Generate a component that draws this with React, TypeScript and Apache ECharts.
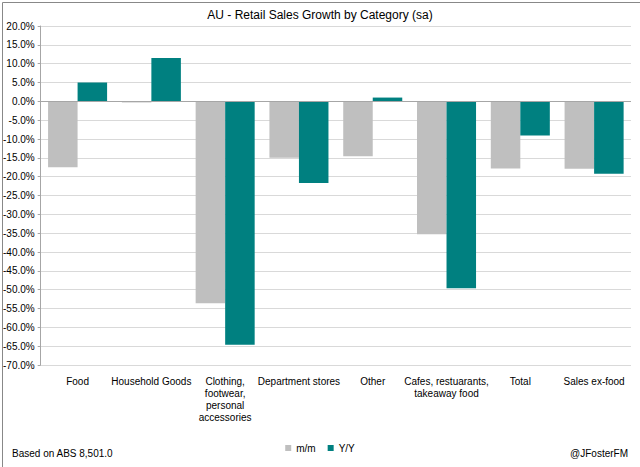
import React, { useEffect, useRef } from "react";
import * as echarts from "echarts";

const categories = [
  "Food",
  "Household Goods",
  "Clothing,\nfootwear,\npersonal\naccessories",
  "Department stores",
  "Other",
  "Cafes, restuarants,\ntakeaway food",
  "Total",
  "Sales ex-food",
];
const mom = [-17.5, -0.3, -53.6, -15.0, -14.6, -35.3, -17.8, -17.9];
const yoy = [5.0, 11.5, -64.6, -21.7, 1.0, -49.6, -9.1, -19.2];

const FONT = "'Liberation Sans', 'Open Sans', sans-serif";

export default function App() {
  const ref = useRef<HTMLDivElement>(null);
  useEffect(() => {
    document.body.style.margin = "0";
    const chart = echarts.init(ref.current!, null, { renderer: "svg" });
    chart.setOption({
      animation: false,
      backgroundColor: "#fff",
      textStyle: { fontFamily: FONT },
      title: {
        text: "AU - Retail Sales Growth by Category (sa)",
        left: "center",
        top: 4,
        textStyle: { fontSize: 12, fontWeight: "normal", color: "#000", fontFamily: FONT },
      },
      legend: {
        bottom: 9,
        left: "center",
        itemWidth: 6,
        itemHeight: 6,
        itemGap: 12,
        icon: "rect",
        textStyle: { fontSize: 10, color: "#000", fontFamily: FONT },
        data: ["m/m", "Y/Y"],
      },
      graphic: [
        {
          type: "rect",
          left: 0,
          top: 0,
          shape: { width: 639, height: 466 },
          style: { fill: "none", stroke: "#888", lineWidth: 1 },
          silent: true,
        },
        {
          type: "text",
          left: 12,
          bottom: 9,
          style: { text: "Based on ABS 8,501.0", fontSize: 10, fill: "#000", fontFamily: FONT },
        },
        {
          type: "text",
          right: 12,
          bottom: 9,
          style: { text: "@JFosterFM", fontSize: 10, fill: "#000", fontFamily: FONT },
        },
      ],
      grid: { left: 37, right: 9, top: 26, bottom: 102, containLabel: false },
      xAxis: {
        type: "category",
        data: categories,
        axisLine: { show: false, onZero: false },
        axisTick: { show: false },
        axisLabel: {
          interval: 0,
          margin: 10,
          fontSize: 10,
          lineHeight: 12,
          color: "#000",
          fontFamily: FONT,
        },
      },
      yAxis: {
        type: "value",
        min: -70,
        max: 20,
        interval: 5,
        axisLine: { show: true, lineStyle: { color: "#a6a6a6" } },
        axisTick: { show: true, length: 3, lineStyle: { color: "#a6a6a6" } },
        splitLine: { show: true, lineStyle: { color: "#d9d9d9" } },
        axisLabel: {
          fontSize: 10,
          color: "#000",
          margin: 6,
          fontFamily: FONT,
          formatter: (v: number) => v.toFixed(1) + "%",
        },
      },
      series: [
        {
          name: "m/m",
          type: "bar",
          data: mom,
          itemStyle: { color: "#bfbfbf" },
          barGap: "0%",
          barCategoryGap: "20%",
          markLine: {
            silent: true,
            symbol: "none",
            label: { show: false },
            lineStyle: { color: "#a6a6a6", type: "solid", width: 1 },
            data: [{ yAxis: 0 }],
          },
        },
        {
          name: "Y/Y",
          type: "bar",
          data: yoy,
          itemStyle: { color: "#008080" },
          barGap: "0%",
          barCategoryGap: "20%",
        },
      ],
    });
    return () => chart.dispose();
  }, []);
  return <div ref={ref} style={{ width: 640, height: 467 }} />;
}
